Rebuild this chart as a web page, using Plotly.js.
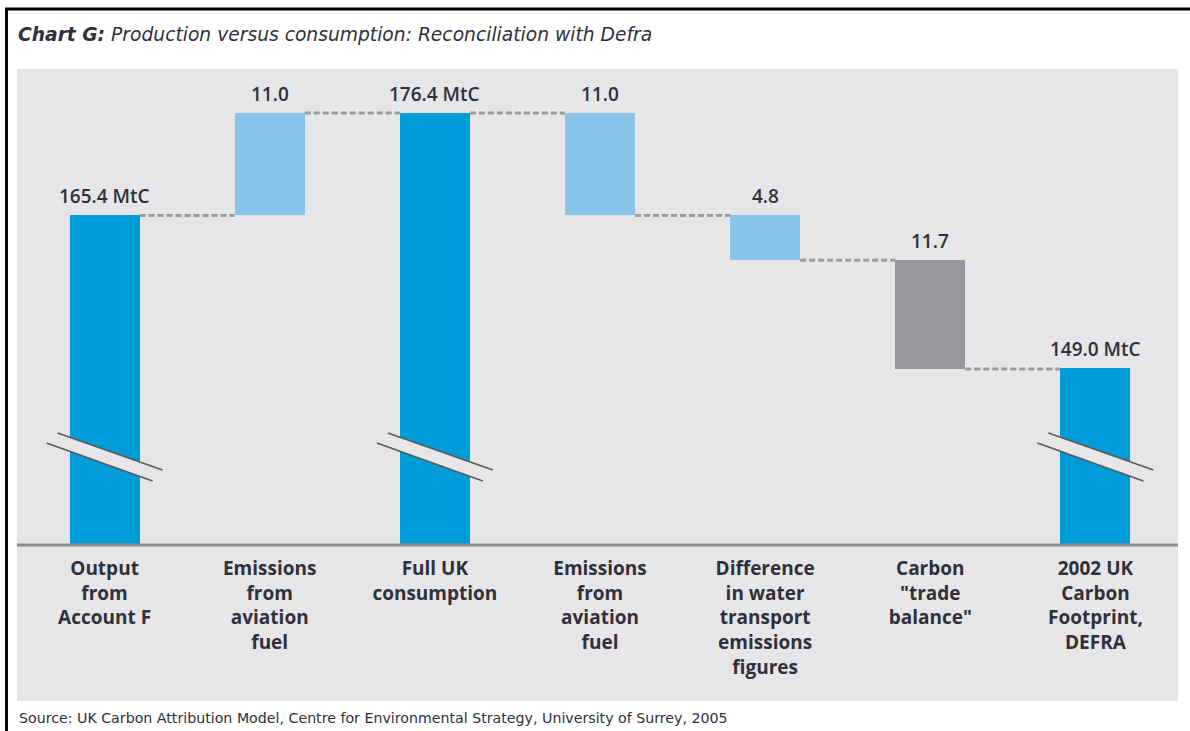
<!DOCTYPE html>
<html><head><meta charset="utf-8">
<script src="https://cdn.plot.ly/plotly-3.0.1.min.js"></script>
<style>html,body{margin:0;padding:0;background:#fff}</style>
</head><body><div id="chart" style="width:1190px;height:731px"></div>
<script>
// ---- data ----
const categories = [
  'Output<br>from<br>Account F',
  'Emissions<br>from<br>aviation<br>fuel',
  'Full UK<br>consumption',
  'Emissions<br>from<br>aviation<br>fuel',
  'Difference<br>in water<br>transport<br>emissions<br>figures',
  'Carbon<br>"trade<br>balance"',
  '2002 UK<br>Carbon<br>Footprint,<br>DEFRA'
];
const values = [165.4, 11.0, 176.4, -11.0, -4.8, -11.7, 149.0];
const measures = ['absolute', 'relative', 'absolute', 'relative', 'relative', 'relative', 'absolute'];
const valueLabels = ['165.4 MtC', '11.0', '176.4 MtC', '11.0', '4.8', '11.7', '149.0 MtC'];
const titleText = '<b><i>Chart G:</i></b><i> Production versus consumption: Reconciliation with Defra</i>';
const sourceText = 'Source: UK Carbon Attribution Model, Centre for Environmental Strategy, University of Surrey, 2005';

// ---- style ----
const DARK = '#009cd9', LIGHT = '#89c4eb', GREY = '#97989b', BG = '#e6e6e8';
const TXT = '#30303c';
const barColors = [DARK, LIGHT, DARK, LIGHT, LIGHT, GREY, DARK];
const FONT = 'Open Sans, Noto Sans, sans-serif';
const FONT2 = 'DejaVu Sans, Verdana, sans-serif';
const W = 1190, H = 731;
const M = {l: 22, r: 12, t: 68, b: 186};
const plotW = W - M.l - M.r, plotH = H - M.t - M.b;
const px2x = px => (px - M.l) / plotW;          // paper x
const py2y = py => (H - M.b - py) / plotH;      // paper y
const barW = 0.424;
const unitPx = plotW / 7;

// ---- waterfall geometry from data ----
let running = 0;
const bases = [], heights = [], tops = [], levels = [];
values.forEach((v, i) => {
  if (measures[i] === 'absolute') {
    bases.push(0); heights.push(v); tops.push(v); running = v;
  } else {
    const s = running, e = running + v;
    bases.push(Math.min(s, e)); heights.push(Math.abs(v)); tops.push(Math.max(s, e));
    running = e;
  }
  levels.push(running);
});
const xs = categories.map((_, i) => i);

const trace = {
  type: 'bar', x: xs, y: heights, base: bases, width: barW,
  marker: {color: barColors, line: {width: 0}},
  hoverinfo: 'skip', showlegend: false
};

const shapes = [];
// grey panel
shapes.push({type: 'rect', xref: 'paper', yref: 'paper', layer: 'below',
  x0: px2x(17), x1: px2x(1178), y0: py2y(701), y1: py2y(69),
  fillcolor: BG, line: {width: 0}});
// frame lines
shapes.push({type: 'line', xref: 'paper', yref: 'paper', x0: px2x(5), x1: px2x(1192), y0: py2y(9), y1: py2y(9), line: {color: '#000', width: 3}});
shapes.push({type: 'line', xref: 'paper', yref: 'paper', x0: px2x(6.5), x1: px2x(6.5), y0: py2y(9), y1: py2y(733), line: {color: '#000', width: 3}});
// connectors
for (let i = 0; i < values.length - 1; i++) {
  shapes.push({type: 'line', xref: 'x', yref: 'y',
    x0: i + barW / 2, x1: i + 1 - barW / 2, y0: levels[i], y1: levels[i],
    line: {color: '#9c9c9c', width: 3, dash: '6px,3px'}});
}
// axis break marks on total bars
values.forEach((v, i) => {
  if (measures[i] !== 'absolute') return;
  const dx = p => (i + p / unitPx).toFixed(4);
  const a = [dx(-47), py2y(433)], b = [dx(58), py2y(470)], c = [dx(48), py2y(481)], d = [dx(-58), py2y(443)];
  shapes.push({type: 'path', xref: 'x', yref: 'paper',
    path: `M${a[0]},${a[1]} L${b[0]},${b[1]} L${c[0]},${c[1]} L${d[0]},${d[1]} Z`,
    fillcolor: BG, line: {width: 0}});
  shapes.push({type: 'line', xref: 'x', yref: 'paper', x0: a[0], y0: a[1], x1: b[0], y1: b[1], line: {color: '#5a5a5a', width: 1.5}});
  shapes.push({type: 'line', xref: 'x', yref: 'paper', x0: d[0], y0: d[1], x1: c[0], y1: c[1], line: {color: '#5a5a5a', width: 1.5}});
});
// baseline
shapes.push({type: 'line', xref: 'paper', yref: 'paper', x0: px2x(17), x1: px2x(1178), y0: 0, y1: 0, line: {color: '#8c8c8c', width: 3}});

const annotations = valueLabels.map((t, i) => ({
  x: i, y: tops[i], xref: 'x', yref: 'y', text: t, showarrow: false,
  yanchor: 'bottom', yshift: 4, font: {family: FONT, size: 19, color: TXT, weight: 600}
}));
annotations.push({xref: 'paper', yref: 'paper', x: px2x(17), y: py2y(718), xanchor: 'left', yanchor: 'middle',
  text: sourceText, showarrow: false, font: {family: FONT2, size: 14.2, color: TXT}});

const layout = {
  width: W, height: H,
  margin: {l: M.l, r: M.r, t: M.t, b: M.b, autoexpand: false},
  paper_bgcolor: '#fff', plot_bgcolor: 'rgba(0,0,0,0)',
  title: {text: titleText, x: 18 / W, xanchor: 'left', xref: 'container', y: 1 - 34 / H, yref: 'container', yanchor: 'middle',
    font: {family: FONT2, size: 18.7, color: TXT}},
  xaxis: {range: [-0.5, 6.5], tickvals: xs, ticktext: categories, ticks: '', showgrid: false, zeroline: false, showline: false,
    ticklabelstandoff: 10,
    tickfont: {family: FONT, size: 19, color: TXT, weight: 'bold'}, tickangle: 0, fixedrange: true},
  yaxis: {range: [130, 181.24], showgrid: false, zeroline: false, showticklabels: false, showline: false, fixedrange: true},
  shapes: shapes, annotations: annotations, bargap: 0, showlegend: false
};
Plotly.newPlot('chart', [trace], layout, {displayModeBar: false, staticPlot: true});
</script></body></html>
